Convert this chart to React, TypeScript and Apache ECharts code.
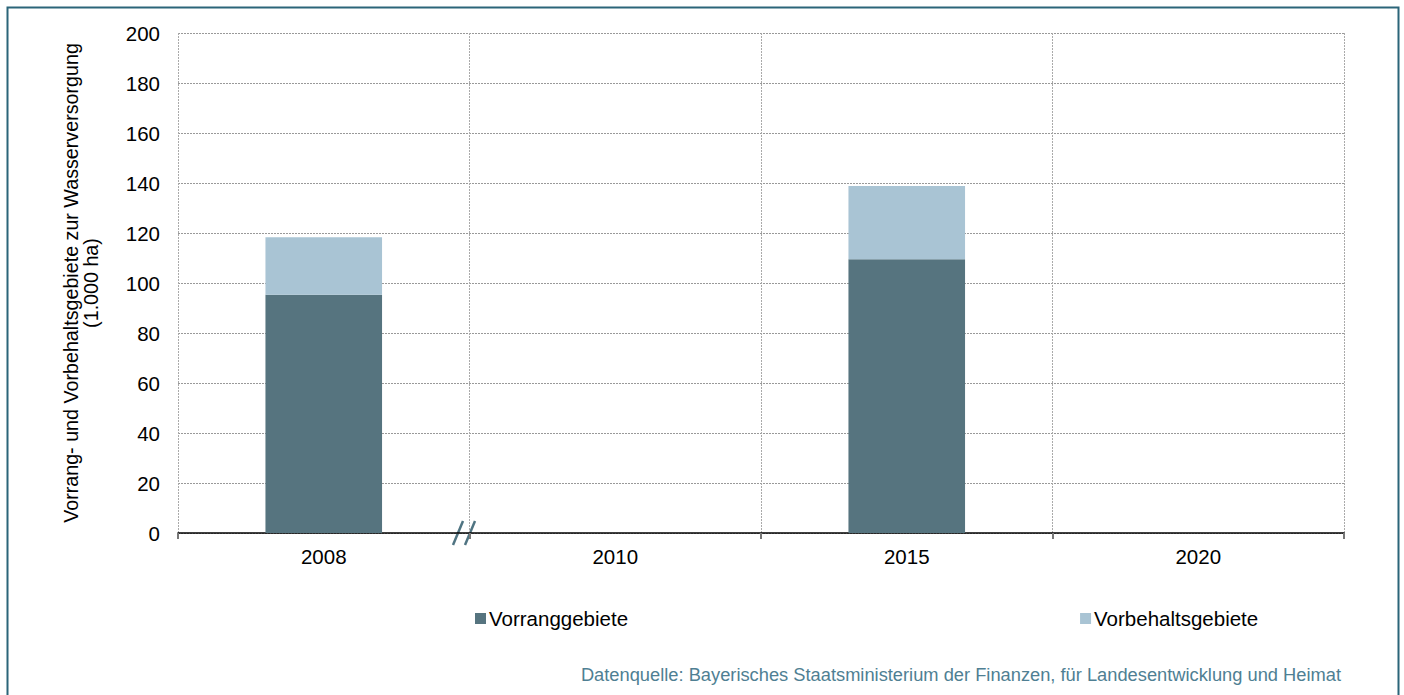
import React, { useEffect, useRef } from "react";
import * as echarts from "echarts";

const categories = ["2008", "2010", "2015", "2020"];
const vorrang = [95.3, null, 109.5, null];
const vorbehalt = [23, null, 29.3, null];
const seriesNames = ["Vorranggebiete", "Vorbehaltsgebiete"];
const yAxisTitle = "Vorrang- und Vorbehaltsgebiete zur Wasserversorgung\n(1.000 ha)";
const sourceText = "Datenquelle: Bayerisches Staatsministerium der Finanzen, für Landesentwicklung und Heimat";

const FONT = "'Liberation Sans', Arial, sans-serif";

export default function App() {
  const ref = useRef<HTMLDivElement>(null);
  useEffect(() => {
    if (!ref.current) return;
    const chart = echarts.init(ref.current, null, { renderer: "svg" });
    chart.setOption({
      animation: false,
      backgroundColor: "#ffffff",
      textStyle: { fontFamily: FONT },
      grid: { left: 178, right: 60, top: 33, bottom: 162 },
      legend: {
        data: seriesNames,
        left: 470,
        top: 603,
        itemWidth: 11,
        itemHeight: 11,
        itemGap: 452,
        icon: "rect",
        textStyle: { fontFamily: FONT, fontSize: 20.5, color: "#000", padding: [0, 0, 0, -2] },
      },
      xAxis: {
        type: "category",
        data: categories,
        boundaryGap: true,
        axisLine: { show: true, lineStyle: { color: "#000", width: 1.5 } },
        axisTick: { show: true, length: 6, lineStyle: { color: "#777", width: 2 } },
        axisLabel: { fontFamily: FONT, fontSize: 20.5, color: "#000", margin: 13 },
        splitLine: { show: true, lineStyle: { color: "#aaa", type: [2, 1], width: 1 } },
      },
      yAxis: {
        type: "value",
        min: 0,
        max: 200,
        interval: 20,
        name: yAxisTitle,
        nameLocation: "middle",
        nameGap: 77,
        nameTextStyle: { fontFamily: FONT, fontSize: 19.7, color: "#000", lineHeight: 20 },
        axisLine: { show: false },
        axisTick: { show: false },
        axisLabel: { fontFamily: FONT, fontSize: 20.5, color: "#000", margin: 18 },
        splitLine: { show: true, lineStyle: { color: "#999", type: [2, 1], width: 1 } },
      },
      series: [
        {
          name: seriesNames[0],
          type: "bar",
          stack: "total",
          data: vorrang,
          barWidth: "40%",
          itemStyle: { color: "#56747f" },
        },
        {
          name: seriesNames[1],
          type: "bar",
          stack: "total",
          data: vorbehalt,
          barWidth: "40%",
          itemStyle: { color: "#a9c4d4" },
        },
      ],
      graphic: [
        {
          type: "rect",
          shape: { x: 7.5, y: 7.5, width: 1391, height: 740 },
          style: { fill: "none", stroke: "#2b6579", lineWidth: 2 },
          silent: true,
        },
        {
          type: "line",
          shape: { x1: 453, y1: 545, x2: 463, y2: 521 },
          style: { stroke: "#4f7482", lineWidth: 2.5 },
        },
        {
          type: "line",
          shape: { x1: 465, y1: 545, x2: 475, y2: 521 },
          style: { stroke: "#4f7482", lineWidth: 2.5 },
        },
        {
          type: "text",
          right: 63,
          top: 665,
          style: { text: sourceText, fontFamily: FONT, fontSize: 18.3, fill: "#4f7f93" },
        },
      ],
    });
    return () => chart.dispose();
  }, []);
  return (
    <div
      ref={ref}
      style={{ position: "fixed", left: 0, top: 0, width: 1404, height: 695 }}
    />
  );
}
